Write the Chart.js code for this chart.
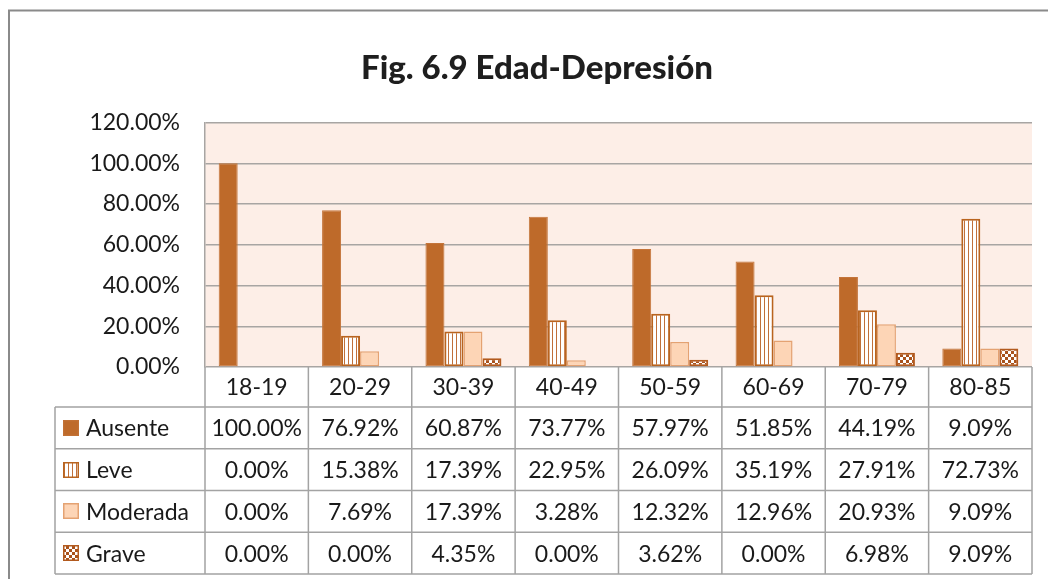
<!DOCTYPE html>
<html><head><meta charset="utf-8">
<script src="https://cdn.jsdelivr.net/npm/chart.js@4"></script>
<style>html,body{margin:0;padding:0;background:#fff;overflow:hidden}#wrap{position:relative;width:1048px;height:579px}canvas{display:block}</style>
</head><body><div id="wrap"><canvas id="c" width="1048" height="579"></canvas></div>
<script>
const categories = ['18-19','20-29','30-39','40-49','50-59','60-69','70-79','80-85'];
const seriesNames = ['Ausente','Leve','Moderada','Grave'];
const ausente  = [100.00, 76.92, 60.87, 73.77, 57.97, 51.85, 44.19, 9.09];
const leve     = [0.00, 15.38, 17.39, 22.95, 26.09, 35.19, 27.91, 72.73];
const moderada = [0.00, 7.69, 17.39, 3.28, 12.32, 12.96, 20.93, 9.09];
const grave    = [0.00, 0.00, 4.35, 0.00, 3.62, 0.00, 6.98, 9.09];
const yMin = 0, yMax = 120, yStep = 20;

const BROWN = '#BE6A2A';
const BROWN_EDGE = '#C4743A';
const PEACH = '#FDD5B6';
const PEACH_EDGE = '#E4A272';
const GRID = '#A8A5A3';
const TEXT = '#1A1A1A';
const FONT = 'Lato';
const FS = 23;

function stripePattern(ctx){
  const c = document.createElement('canvas'); c.width = 4; c.height = 4;
  const g = c.getContext('2d');
  g.fillStyle = '#FFFFFF'; g.fillRect(0,0,4,4);
  g.fillStyle = '#C0703A'; g.fillRect(0,0,1,4);
  return ctx.createPattern(c,'repeat');
}
function checkerPattern(ctx){
  const c = document.createElement('canvas'); c.width = 6; c.height = 6;
  const g = c.getContext('2d');
  g.fillStyle = '#FFFFFF'; g.fillRect(0,0,6,6);
  g.fillStyle = '#A9521C'; g.fillRect(0,0,3,3); g.fillRect(3,3,3,3);
  return ctx.createPattern(c,'repeat');
}

const canvas = document.getElementById('c');
const ctx0 = canvas.getContext('2d');
const fills = [BROWN, stripePattern(ctx0), PEACH, checkerPattern(ctx0)];
const edges = [BROWN_EDGE, '#B9641F', PEACH_EDGE, '#B25A1E'];
const edgeW = [1, 2, 1.5, 2];
const seriesValues = [ausente, leve, moderada, grave];

const fmt = v => v.toFixed(2) + '%';

const decor = {
  id: 'decor',
  beforeDraw(chart){
    const {ctx, chartArea: a} = chart;
    ctx.save();
    ctx.fillStyle = '#FDEEE7';
    ctx.fillRect(a.left, a.top, a.right - a.left, a.bottom - a.top);
    ctx.restore();
  },
  afterDraw(chart){
    const {ctx, chartArea: a} = chart;
    const xs = chart.scales.x;
    const n = categories.length;
    const cw = (a.right - a.left) / n;
    const top = a.bottom;
    const headH = 40;
    const rowH = 41.75;
    const labelLeft = 55;
    const bottom = top + headH + 4 * rowH;
    ctx.save();
    // frame
    ctx.strokeStyle = '#8A8A8A'; ctx.lineWidth = 2;
    ctx.beginPath();
    ctx.moveTo(9, 579); ctx.lineTo(9, 10.5); ctx.lineTo(1048, 10.5);
    ctx.stroke();
    // table grid
    ctx.strokeStyle = '#A3A3A3'; ctx.lineWidth = 1.5;
    ctx.beginPath();
    for (let i = 0; i < n; i++) {
      const xl = xs.getPixelForValue(i) - cw / 2;
      ctx.moveTo(xl, top); ctx.lineTo(xl, bottom);
    }
    ctx.moveTo(a.right, top); ctx.lineTo(a.right, bottom);
    ctx.moveTo(labelLeft, top + headH); ctx.lineTo(labelLeft, bottom);
    for (let r = 0; r <= 4; r++) {
      const y = top + headH + r * rowH;
      ctx.moveTo(labelLeft, y); ctx.lineTo(a.right, y);
    }
    ctx.stroke();
    // text
    ctx.fillStyle = TEXT;
    ctx.font = FS + 'px ' + FONT;
    ctx.textBaseline = 'middle';
    ctx.textAlign = 'center';
    categories.forEach((c, i) => ctx.fillText(c, xs.getPixelForValue(i), top + headH / 2 + 1));
    seriesValues.forEach((vals, r) => {
      const yc = top + headH + r * rowH + rowH / 2 + 1;
      ctx.textAlign = 'center';
      vals.forEach((v, i) => ctx.fillText(fmt(v), xs.getPixelForValue(i), yc));
      // key
      const ks = 16, kx = 63, ky = Math.round(yc - 1 - ks / 2);
      ctx.fillStyle = fills[r];
      ctx.fillRect(kx, ky, ks, ks);
      ctx.strokeStyle = edges[r]; ctx.lineWidth = (r === 0) ? 1 : 1.5;
      ctx.strokeRect(kx + 0.75, ky + 0.75, ks - 1.5, ks - 1.5);
      ctx.fillStyle = TEXT;
      ctx.textAlign = 'left';
      ctx.fillText(seriesNames[r], 86, yc);
    });
    ctx.restore();
  }
};

new Chart(canvas, {
  type: 'bar',
  data: {
    labels: categories,
    datasets: seriesNames.map((name, i) => ({
      label: name,
      data: seriesValues[i],
      backgroundColor: fills[i],
      borderColor: edges[i],
      borderWidth: edgeW[i],
      borderSkipped: false,
      categoryPercentage: 0.735,
      barPercentage: 1.0
    }))
  },
  options: {
    responsive: false,
    animation: false,
    devicePixelRatio: 1,
    layout: { padding: { left: 42, right: 16, top: 0, bottom: 212 } },
    plugins: {
      legend: { display: false },
      tooltip: { enabled: false },
      title: {
        display: true,
        text: 'Fig. 6.9 Edad-Depresión',
        color: '#1E1E1E',
        font: { family: FONT, size: 33, weight: '900', lineHeight: 1.2 },
        padding: { top: 49, bottom: 34 }
      }
    },
    scales: {
      x: { display: false },
      y: {
        min: yMin, max: yMax,
        afterFit(scale){ scale.width = 163; },
        ticks: {
          stepSize: yStep,
          padding: 25,
          color: TEXT,
          font: { family: FONT, size: FS },
          callback: v => fmt(v)
        },
        grid: { color: GRID, lineWidth: 1.5, drawTicks: false, tickLength: 0 },
        border: { display: true, color: GRID, width: 1.5 }
      }
    }
  },
  plugins: [decor]
});
</script>
</body></html>
